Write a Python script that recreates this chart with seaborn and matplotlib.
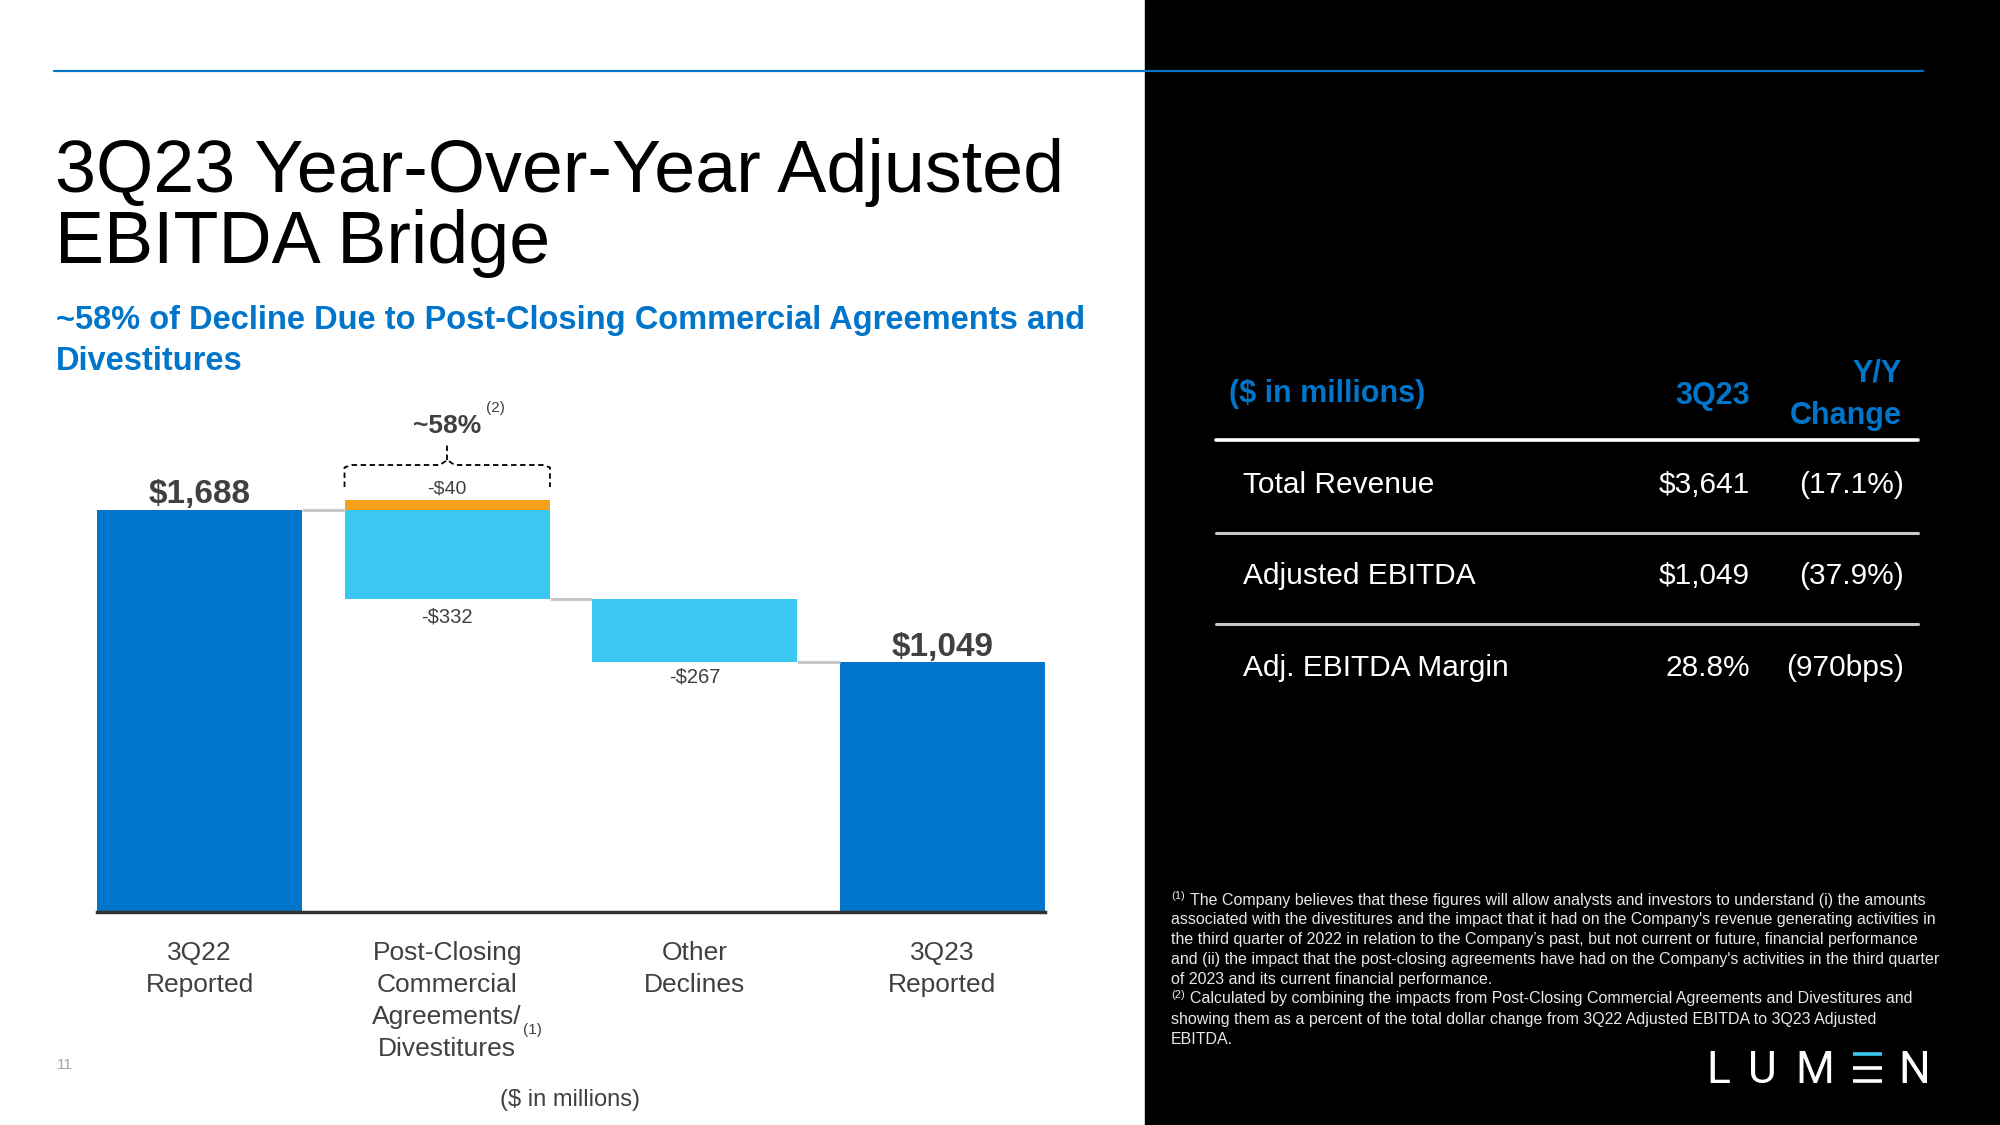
import matplotlib
matplotlib.use("Agg")
import matplotlib.pyplot as plt
from matplotlib.lines import Line2D
from matplotlib.patches import Rectangle
import pandas as pd
import seaborn as sns

################################################################################
# data

categories = ["3Q22\nReported", "Post-Closing\nCommercial\nAgreements/\nDivestitures",
              "Other\nDeclines", "3Q23\nReported"]
start_ebitda = 1688
divestitures = -40
post_closing = -332
other_declines = -267
end_ebitda = 1049
value_labels = ["$1,688", "-$40", "-$332", "-$267", "$1,049"]
share_label = "~58%"

table_columns = ["($ in millions)", "3Q23", "Y/Y", "Change"]
table_rows = ["Total Revenue", "Adjusted EBITDA", "Adj. EBITDA Margin"]
table_3q23 = ["$3,641", "$1,049", "28.8%"]
table_change = ["(17.1%)", "(37.9%)", "(970bps)"]

footnote_1 = [
    "The Company believes that these figures will allow analysts and investors to understand (i) the amounts",
    "associated with the divestitures and the impact that it had on the Company's revenue generating activities in",
    "the third quarter of 2022 in relation to the Company\u2019s past, but not current or future, financial performance",
    "and (ii) the impact that the post-closing agreements have had on the Company's activities in the third quarter",
    "of 2023 and its current financial performance.",
]
footnote_2 = [
    "Calculated by combining the impacts from Post-Closing Commercial Agreements and Divestitures and",
    "showing them as a percent of the total dollar change from 3Q22 Adjusted EBITDA to 3Q23 Adjusted",
    "EBITDA.",
]

################################################################################

DARK_BLUE = "#0075c9"
LIGHT_BLUE = "#3bc8f0"
ORANGE = "#f7a01e"
TEXT_GREY = "#404040"

W, H = 2000, 1125
BAR_W = 0.83
PX_PER_UNIT = 0.2382


def fx(x):
    return x / W


def fy(y):
    return 1 - y / H


sns.set_style("white")
plt.rcParams["font.family"] = ["Liberation Sans", "DejaVu Sans"]

fig = plt.figure(figsize=(20, 11.25), dpi=100)

# black panel on the right + blue rule along the top
fig.add_artist(Rectangle((fx(1145), 0), 1, 1, transform=fig.transFigure,
                         color="black", zorder=-1))
fig.add_artist(Line2D([fx(54), fx(1923)], [fy(71), fy(71)], transform=fig.transFigure,
                      color=DARK_BLUE, lw=1.6, zorder=5))

# titles
fig.text(fx(55), fy(192), "3Q23 Year-Over-Year Adjusted", fontsize=53, color="black", va="baseline")
fig.text(fx(55), fy(263), "EBITDA Bridge", fontsize=53, color="black", va="baseline")
fig.text(fx(56), fy(329), "~58% of Decline Due to Post-Closing Commercial Agreements and",
         fontsize=23.5, fontweight="bold", color=DARK_BLUE, va="baseline")
fig.text(fx(56), fy(370), "Divestitures", fontsize=23.5, fontweight="bold", color=DARK_BLUE, va="baseline")

################################################################################
# waterfall

low_point = start_ebitda + divestitures + post_closing
segments = pd.DataFrame({
    "step": [categories[0], categories[1], categories[1], categories[2], categories[3]],
    "bottom": [0, low_point, start_ebitda, end_ebitda, 0],
    "height": [start_ebitda, -(divestitures + post_closing), -divestitures, -other_declines, end_ebitda],
    "color": [DARK_BLUE, LIGHT_BLUE, ORANGE, LIGHT_BLUE, DARK_BLUE],
})

ymax = 1800
ax = fig.add_axes([fx(97), fy(912), fx(948), ymax * PX_PER_UNIT / H])

for _, seg in segments.iterrows():
    sns.barplot(x=[seg["step"]], y=[seg["height"]], bottom=seg["bottom"], order=categories,
                color=seg["color"], saturation=1, width=BAR_W, linewidth=0, ax=ax)

# connectors
levels = [start_ebitda, low_point, end_ebitda]
for i, level in enumerate(levels):
    ax.hlines(level, i + BAR_W / 2, i + 1 - BAR_W / 2, color="#c8c8c8", lw=2.2, zorder=1)

ax.set_xlim(-BAR_W / 2, len(categories) - 1 + BAR_W / 2)
ax.set_ylim(0, ymax)
ax.set_yticks([])
ax.set_xlabel("")
ax.set_ylabel("")
sns.despine(ax=ax, left=True)
ax.spines["bottom"].set_color("#333333")
ax.spines["bottom"].set_linewidth(2.5)
ax.set_xticks(range(len(categories)))
ax.set_xticklabels(categories, fontsize=19, color=TEXT_GREY, linespacing=1.42)
ax.tick_params(axis="x", length=0, pad=21)

# value labels
ax.annotate(value_labels[0], (0, start_ebitda), xytext=(0, 7), textcoords="offset pixels",
            ha="center", va="baseline", fontsize=24, fontweight="bold", color=TEXT_GREY)
ax.annotate(value_labels[1], (1, start_ebitda - divestitures), xytext=(0, 7), textcoords="offset pixels",
            ha="center", va="baseline", fontsize=14, color=TEXT_GREY)
ax.annotate(value_labels[2], (1, low_point), xytext=(0, -24), textcoords="offset pixels",
            ha="center", va="baseline", fontsize=14.5, color=TEXT_GREY)
ax.annotate(value_labels[3], (2, end_ebitda), xytext=(0, -20), textcoords="offset pixels",
            ha="center", va="baseline", fontsize=14.5, color=TEXT_GREY)
ax.annotate(value_labels[4], (3, end_ebitda), xytext=(0, 6), textcoords="offset pixels",
            ha="center", va="baseline", fontsize=24, fontweight="bold", color=TEXT_GREY)

# dashed bracket over the post-closing bar
left, right = 1 - BAR_W / 2, 1 + BAR_W / 2
y_bar = (912 - 465) / PX_PER_UNIT
y_end = (912 - 487) / PX_PER_UNIT
y_peak = (912 - 460) / PX_PER_UNIT
y_tip = (912 - 443) / PX_PER_UNIT
bracket_x = [left, left, left + 0.03, 0.97, 1, 1.03, right - 0.03, right, right]
bracket_y = [y_end, y_bar - 10, y_bar, y_bar, y_peak, y_bar, y_bar, y_bar - 10, y_end]
ax.plot(bracket_x, bracket_y, color="black", lw=1.3, ls=(0, (3, 2)), clip_on=False)
ax.plot([1, 1], [y_peak, y_tip], color="black", lw=1.3, ls=(0, (3, 2)), clip_on=False)

fig.text(fx(447), fy(433), share_label, ha="center", va="baseline", fontsize=19,
         fontweight="bold", color=TEXT_GREY)
fig.text(fx(486), fy(408), "(2)", ha="left", va="center", fontsize=11, color=TEXT_GREY)
fig.text(fx(523), fy(1030), "(1)", ha="left", va="center", fontsize=11, color=TEXT_GREY)
fig.text(fx(570), fy(1100), "($ in millions)", ha="center", va="center", fontsize=17, color=TEXT_GREY)
fig.text(fx(65), fy(1065), "11", ha="center", va="center", fontsize=11, color="#a6a6a6")

################################################################################
# right-hand table

fig.text(fx(1229), fy(394), table_columns[0], ha="left", va="center", fontsize=22,
         fontweight="bold", color=DARK_BLUE)
fig.text(fx(1750), fy(396), table_columns[1], ha="right", va="center", fontsize=22,
         fontweight="bold", color=DARK_BLUE)
fig.text(fx(1902), fy(374), table_columns[2], ha="right", va="center", fontsize=22,
         fontweight="bold", color=DARK_BLUE)
fig.text(fx(1902), fy(416), table_columns[3], ha="right", va="center", fontsize=22,
         fontweight="bold", color=DARK_BLUE)

fig.add_artist(Line2D([fx(1216), fx(1918)], [fy(440), fy(440)], transform=fig.transFigure,
                      color="white", lw=2.6))
for y in [533, 624]:
    fig.add_artist(Line2D([fx(1216), fx(1918)], [fy(y), fy(y)], transform=fig.transFigure,
                          color="#c8c8c8", lw=2.2))

for row, name in enumerate(table_rows):
    y = 485 + row * 91.5
    fig.text(fx(1243), fy(y), name, ha="left", va="center", fontsize=21.5, color="white")
    fig.text(fx(1750), fy(y), table_3q23[row], ha="right", va="center", fontsize=21.5, color="white")
    fig.text(fx(1904), fy(y), table_change[row], ha="right", va="center", fontsize=21.5, color="white")

# footnotes
fig.text(fx(1171), fy(896), "(1)", ha="left", va="center", fontsize=8, color="#e8e8e8")
for i, line in enumerate(footnote_1):
    x0 = 1190 if i == 0 else 1171
    fig.text(fx(x0), fy(900 + i * 19.8), line, ha="left", va="center", fontsize=11.5, color="#e8e8e8")
fig.text(fx(1171), fy(995), "(2)", ha="left", va="center", fontsize=8, color="#e8e8e8")
for i, line in enumerate(footnote_2):
    x0 = 1190 if i == 0 else 1171
    fig.text(fx(x0), fy(999 + i * 20.5), line, ha="left", va="center", fontsize=11.5, color="#e8e8e8")

# logo
for letter, x in zip(["L", "U", "M", "N"], [1718, 1762, 1815, 1914]):
    fig.text(fx(x), fy(1083), letter, ha="center", va="baseline", fontsize=32,
             family="Roboto", fontweight="normal", color="white")
for y, c in zip([1054, 1067.5, 1081], [LIGHT_BLUE, "white", "white"]):
    fig.add_artist(Line2D([fx(1853), fx(1882)], [fy(y), fy(y)], transform=fig.transFigure,
                          color=c, lw=2.6, solid_capstyle="butt"))

fig.savefig("out.png", dpi=100)
